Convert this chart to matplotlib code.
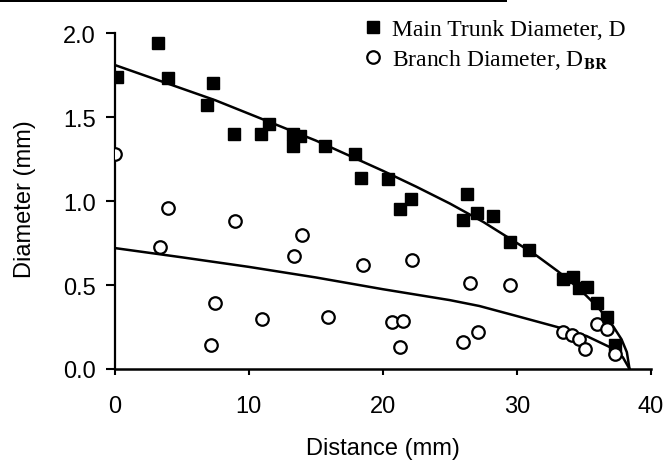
import numpy as np
import matplotlib
matplotlib.use("Agg")
from matplotlib import pyplot as plt

# main trunk diameter D (filled squares)
trunk_x = [0.15, 3.2, 3.95, 7.3, 6.9, 8.9, 10.9, 11.5, 13.3, 13.8, 13.3, 15.7, 17.9, 18.4,
           20.4, 22.1, 21.3, 26.3, 26.0, 27.0, 28.2, 29.5, 30.9, 33.4, 34.2, 34.6, 35.2,
           36.0, 36.7, 37.3]
trunk_y = [1.74, 1.94, 1.73, 1.70, 1.57, 1.40, 1.40, 1.46, 1.40, 1.39, 1.33, 1.33, 1.28, 1.14,
           1.13, 1.01, 0.95, 1.04, 0.89, 0.93, 0.91, 0.755, 0.71, 0.535, 0.55, 0.48, 0.49,
           0.39, 0.31, 0.14]

# branch diameter D_BR (open circles)
branch_x = [0.0, 3.4, 3.95, 9.0, 7.5, 7.2, 11.0, 13.4, 14.0, 15.9, 18.5, 22.2, 20.7, 21.5,
            21.3, 26.5, 29.5, 26.0, 27.1, 33.4, 34.1, 34.6, 35.1, 36.0, 36.7, 37.3]
branch_y = [1.28, 0.725, 0.96, 0.88, 0.39, 0.14, 0.30, 0.67, 0.80, 0.31, 0.62, 0.65, 0.28, 0.285,
            0.13, 0.51, 0.50, 0.16, 0.22, 0.22, 0.20, 0.18, 0.12, 0.27, 0.24, 0.09]

# fitted curves
trunk_fit_x = [0, 2.5, 5, 7.5, 10, 12.5, 15, 17.5, 20, 22.5, 25, 27.5, 30, 31.5, 33, 34,
               35, 36, 37, 37.8, 38.2, 38.4]
trunk_fit_y = [1.81, 1.74, 1.67, 1.60, 1.52, 1.44, 1.36, 1.27, 1.18, 1.085, 0.985, 0.875,
               0.75, 0.673, 0.585, 0.521, 0.45, 0.371, 0.276, 0.177, 0.10, 0.0]
branch_fit_x = [0, 5, 10, 15, 20, 25, 27.2, 30, 33, 35.2, 37.2, 37.9, 38.4]
branch_fit_y = [0.72, 0.665, 0.608, 0.545, 0.475, 0.41, 0.375, 0.315, 0.25, 0.196, 0.12,
                0.07, 0.0]

x_ticks = [0, 10, 20, 30, 40]
y_ticks = [0.0, 0.5, 1.0, 1.5, 2.0]

plt.rcParams['font.family'] = ['Liberation Sans', 'DejaVu Sans']
plt.rcParams['mathtext.fontset'] = 'stix'

fig = plt.figure(figsize=(6.67, 4.64), dpi=100)
ax = fig.add_axes([0.172, 0.2026, 0.804, 0.724])

ax.plot(trunk_fit_x, trunk_fit_y, color='black', linewidth=1.8, zorder=2)
ax.plot(branch_fit_x, branch_fit_y, color='black', linewidth=1.8, zorder=2)

ax.plot(trunk_x, trunk_y, 's', color='black', markersize=9.2, linestyle='none', zorder=3,
        label='Main Trunk Diameter, D')
ax.plot(branch_x, branch_y, 'o', markerfacecolor='white', markeredgecolor='black',
        markeredgewidth=1.6, markersize=9, linestyle='none', zorder=3,
        label='Branch Diameter, D$_{\\mathbf{BR}}$')

ax.set_xlim(0, 40)
ax.set_ylim(0, 2.0)
ax.set_xticks(x_ticks)
ax.set_yticks(y_ticks)
ax.set_yticklabels([f"{v:.1f}" for v in y_ticks])
ax.tick_params(axis='x', direction='out', length=4.5, width=1.5, labelsize=17, pad=14)
ax.tick_params(axis='y', direction='out', length=6.5, width=1.5, labelsize=17, pad=7)

ax.spines['top'].set_visible(False)
ax.spines['right'].set_visible(False)
ax.spines['left'].set_linewidth(1.6)
ax.spines['bottom'].set_linewidth(1.8)

ax.set_xlabel('Distance (mm)', fontsize=17)
ax.set_ylabel('Diameter (mm)', fontsize=17)
ax.xaxis.set_label_coords(0.5, -0.203)
ax.yaxis.set_label_coords(-0.146, 0.51)

fig.legend(loc='upper left', bbox_to_anchor=(0.541, 0.958), frameon=False,
           prop={'family': 'Liberation Serif', 'size': 17}, handletextpad=0.3,
           handlelength=1.0, labelspacing=0.3, borderpad=0.0, borderaxespad=0.0)

# scan artifact bar on the top edge
fig.add_artist(plt.Rectangle((0, 0.993), 0.76, 0.007, transform=fig.transFigure,
                             color='black', linewidth=0))

fig.savefig('out.png', dpi=100)
